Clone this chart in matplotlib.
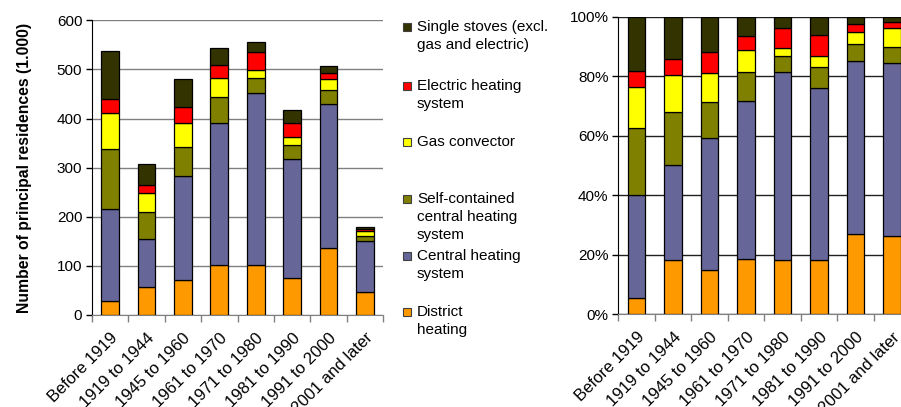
import matplotlib
matplotlib.use("Agg")
import matplotlib.pyplot as plt
import numpy as np
from matplotlib.patches import Rectangle

plt.rcParams["font.family"] = ["Liberation Sans", "DejaVu Sans"]

periods = ["Before 1919", "1919 to 1944", "1945 to 1960", "1961 to 1970",
           "1971 to 1980", "1981 to 1990", "1991 to 2000", "2001 and later"]

# principal residences (1.000) by heating type, bottom to top
district = [29, 56, 71, 102, 102, 76, 136, 47]
central = [186, 99, 213, 288, 351, 241, 294, 104]
self_contained = [122, 54, 59, 53, 30, 30, 29, 10]
gas = [74, 39, 47, 40, 15, 15, 21, 11]
electric = [28, 16, 33, 25, 37, 29, 13, 4]
stoves = [99, 44, 57, 36, 21, 26, 13, 3]

labels = ["District\nheating", "Central heating\nsystem",
          "Self-contained\ncentral heating\nsystem", "Gas convector",
          "Electric heating\nsystem", "Single stoves (excl.\ngas and electric)"]
colors = ["#FF9900", "#666699", "#808000", "#FFFF00", "#FF0000", "#333300"]

series = np.array([district, central, self_contained, gas, electric, stoves], dtype=float)
shares = series / series.sum(axis=0) * 100

fig = plt.figure(figsize=(9.01, 4.07), dpi=100)
W, H = 901, 407
ax1 = fig.add_axes([92 / W, 1 - 315 / H, 291 / W, (315 - 20.3) / H])
ax2 = fig.add_axes([618.3 / W, 1 - 314.3 / H, 292 / W, (314.3 - 16.7) / H])

x = np.arange(len(periods))


def stack(ax, data):
    bottom = np.zeros(len(periods))
    for vals, c in zip(data, colors):
        ax.bar(x, vals, 0.49, bottom=bottom, color=c, edgecolor="black",
               linewidth=0.9, zorder=3)
        bottom += vals


def style(ax, grid_color):
    ax.set_xlim(-0.5, len(periods) - 0.5)
    ax.set_xticks(x)
    ax.set_xticklabels(periods, rotation=45, ha="right", va="top",
                       rotation_mode="anchor", fontsize=12)
    ax.set_xticks(np.arange(len(periods) + 1) - 0.5, minor=True)
    ax.tick_params(axis="x", which="major", length=0, pad=11)
    ax.tick_params(axis="x", which="minor", length=5, width=1, color="#808080")
    ax.tick_params(axis="y", length=4, width=1, labelsize=11, pad=3)
    for s in ["top", "right"]:
        ax.spines[s].set_visible(False)
    ax.spines["left"].set_color("black")
    ax.spines["bottom"].set_color("#808080")
    ax.yaxis.grid(True, color=grid_color, linewidth=1, zorder=0)
    ax.set_axisbelow(True)


stack(ax1, series)
style(ax1, "#808080")
ax1.set_ylim(0, 600)
ax1.set_yticks(range(0, 601, 100))
ax1.set_ylabel("Number of principal residences (1.000)", fontsize=11.3,
               fontweight="bold", labelpad=18)

stack(ax2, shares)
style(ax2, "#202020")
ax2.set_ylim(0, 100)
ax2.set_yticks(range(0, 101, 20))
ax2.set_yticklabels([f"{v}%" for v in range(0, 101, 20)])

# legend drawn as small squares with wrapped text, top item first
ys = [312, 256, 199, 142, 86, 27]
for lab, c, yc in zip(labels, colors, ys):
    fig.patches.append(Rectangle((403 / W, 1 - (yc + 4) / H), 8 / W, 8 / H,
                                 transform=fig.transFigure, facecolor=c,
                                 edgecolor="#404040", linewidth=0.8))
    fig.text(417 / W, 1 - (yc - 7) / H, lab, fontsize=11, va="top",
             ha="left", linespacing=1.35)

fig.savefig("out.png", dpi=100)
